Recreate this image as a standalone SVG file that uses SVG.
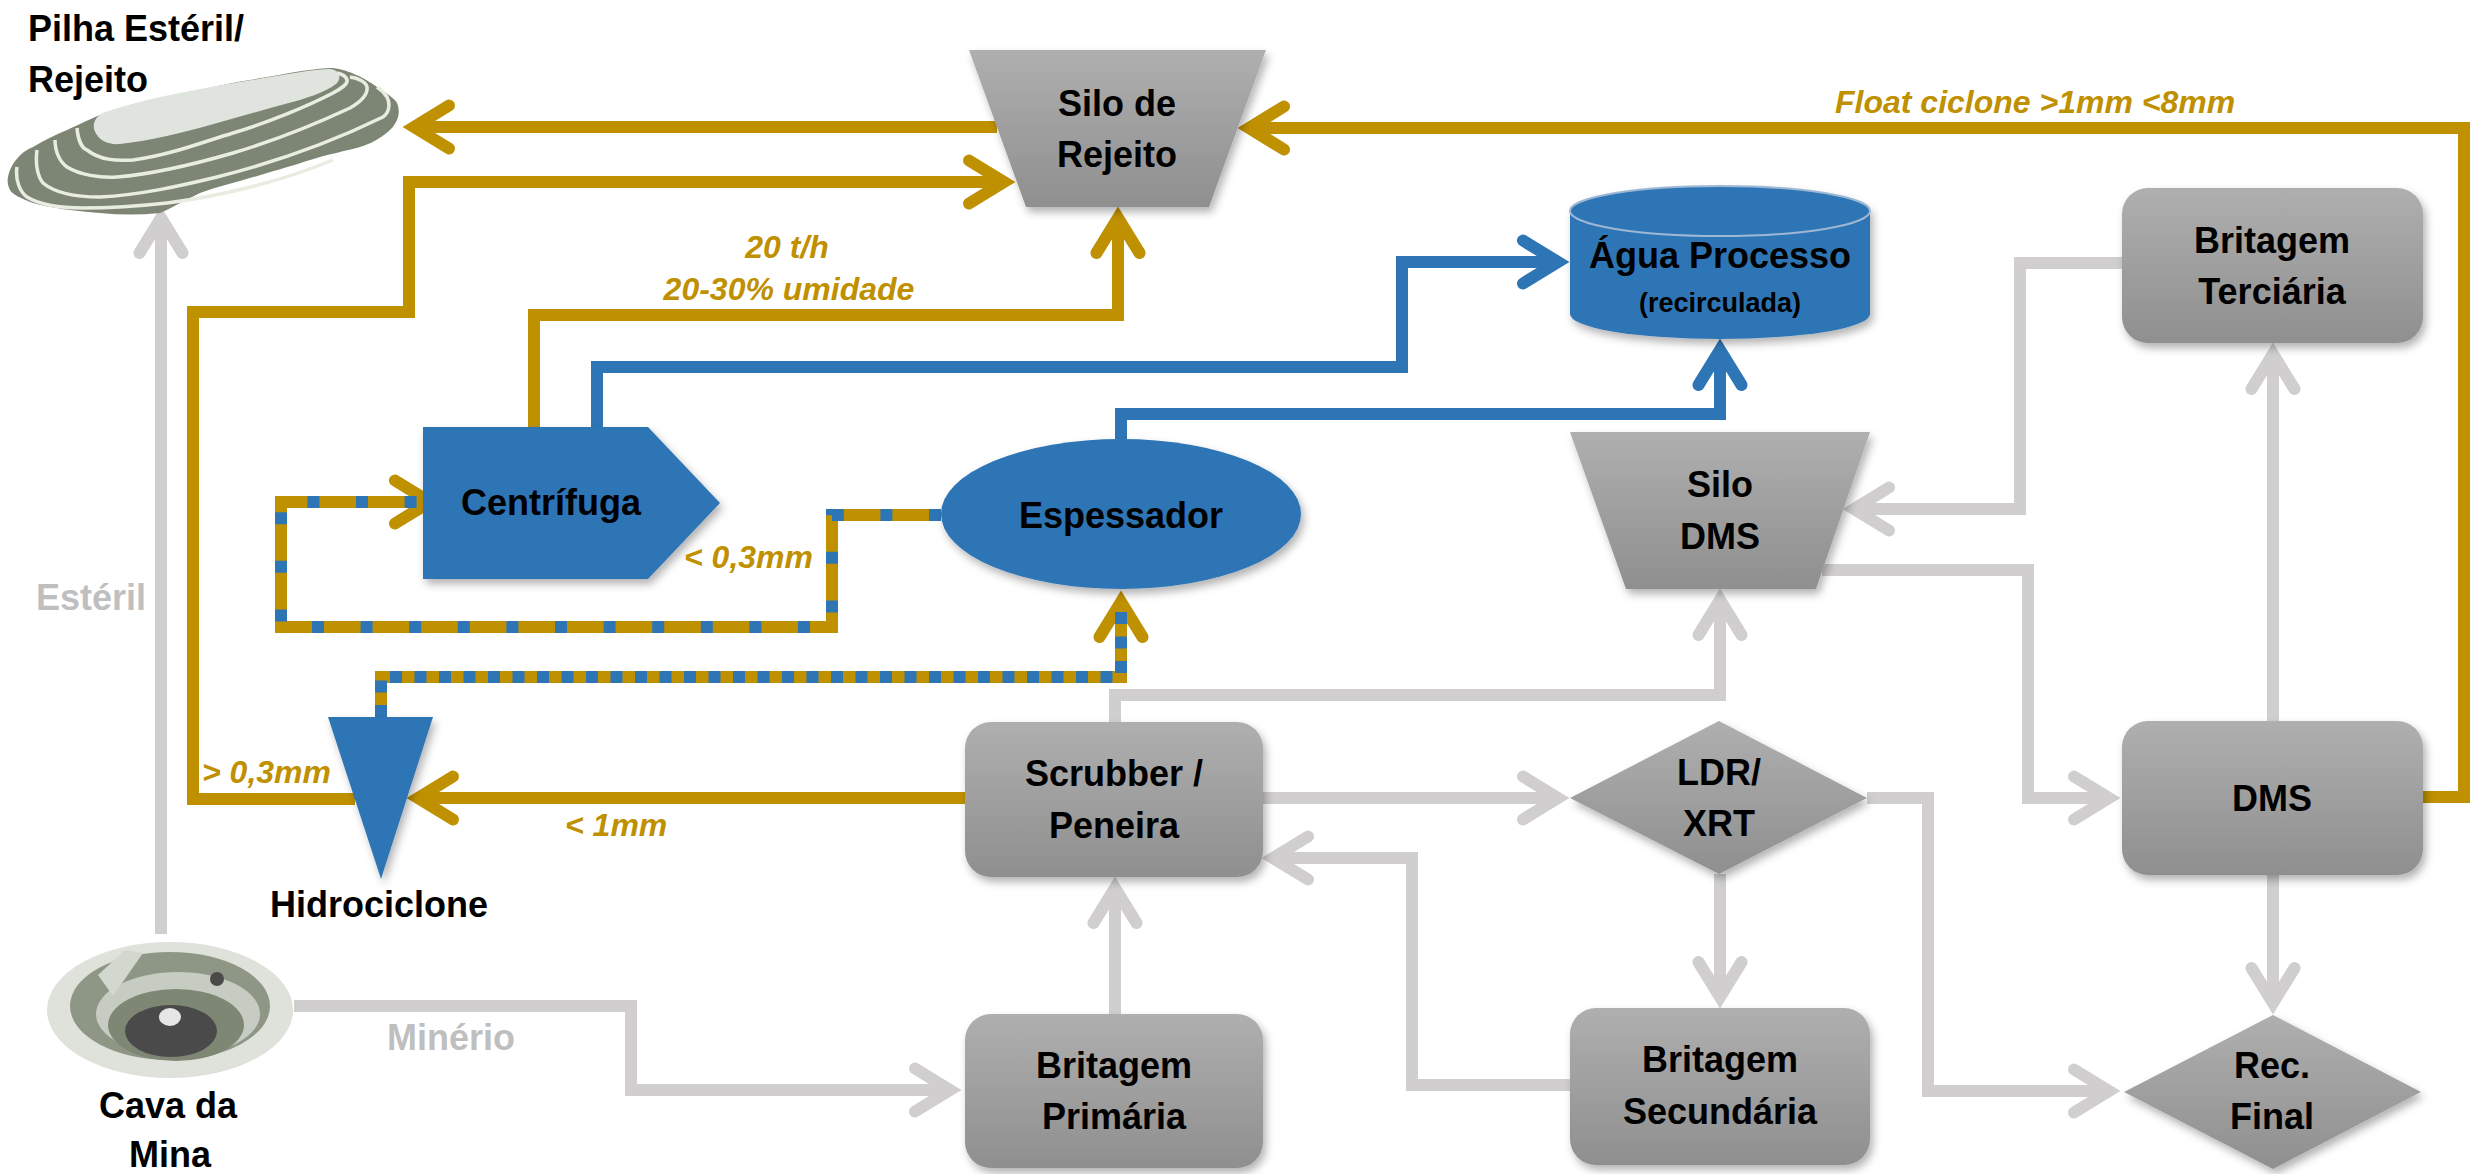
<svg xmlns="http://www.w3.org/2000/svg" width="2471" height="1174" viewBox="0 0 2471 1174">
<defs>
<style>
.lbl{font-family:"Liberation Sans",Arial,sans-serif;font-weight:bold;font-size:36px;fill:#000;text-anchor:middle}
.lbl-l{font-family:"Liberation Sans",Arial,sans-serif;font-weight:bold;font-size:36px;fill:#000}
.sub{font-family:"Liberation Sans",Arial,sans-serif;font-weight:bold;font-size:27px;fill:#000;text-anchor:middle}
.flow{font-family:"Liberation Sans",Arial,sans-serif;font-weight:bold;font-style:italic;font-size:32px;fill:#BF9000}
.glbl{font-family:"Liberation Sans",Arial,sans-serif;font-weight:bold;font-size:36px;fill:#BFBFBF}
.c{fill:none;stroke-width:12;stroke-linejoin:miter;stroke-linecap:butt}
.or{stroke:#BF9000}
.gr{stroke:#D0CECE}
.bl{stroke:#2E75B6}
.dashA{stroke:#2E75B6;stroke-dasharray:12 36.6}
.dashB{stroke:#2E75B6;stroke-dasharray:12 12.5}
.box{fill:url(#gg);filter:url(#sh)}
.blue{fill:#2E75B6;filter:url(#sh)}
.ah{fill:none;stroke-width:12;stroke-linecap:round;stroke-linejoin:miter}
.terr{fill:none;stroke:#E9EDE1;stroke-width:3.5}
</style>
<linearGradient id="gg" x1="0" y1="0" x2="0" y2="1">
<stop offset="0" stop-color="#AFAFAF"/>
<stop offset="1" stop-color="#8F8F8F"/>
</linearGradient>
<filter id="sh" x="-10%" y="-10%" width="130%" height="140%">
<feDropShadow dx="3" dy="5" stdDeviation="4" flood-color="#000" flood-opacity="0.3"/>
</filter>
<marker id="ao" markerUnits="userSpaceOnUse" orient="auto" overflow="visible" refX="0" refY="0" markerWidth="80" markerHeight="80">
<path class="ah" d="M-35,-21.5 L0,0 L-35,21.5" stroke="#BF9000"/>
</marker>
<marker id="ag" markerUnits="userSpaceOnUse" orient="auto" overflow="visible" refX="0" refY="0" markerWidth="80" markerHeight="80">
<path class="ah" d="M-35,-21.5 L0,0 L-35,21.5" stroke="#D0CECE"/>
</marker>
<marker id="ab" markerUnits="userSpaceOnUse" orient="auto" overflow="visible" refX="0" refY="0" markerWidth="80" markerHeight="80">
<path class="ah" d="M-35,-21.5 L0,0 L-35,21.5" stroke="#2E75B6"/>
</marker>
</defs>
<rect width="2471" height="1174" fill="#FFFFFF"/>

<g id="connectors">
<path class="c or" d="M997,127 H414" marker-end="url(#ao)"/>
<path class="c or" d="M355,799 H193 V312 H409 V182 H1004" marker-end="url(#ao)"/>
<path class="c or" d="M534,427 V315 H1118 V218" marker-end="url(#ao)"/>
<path class="c or" d="M2423,797 H2464 V128 H1249" marker-end="url(#ao)"/>
<path class="c or" d="M965,798 H418" marker-end="url(#ao)"/>
<path class="c or" d="M941,515 H832 V627 H281 V502 H430" marker-end="url(#ao)"/>
<path class="c dashA" d="M941,515 H832 V627 H281 V502 H420"/>
<path class="c or" d="M381,717 V677 H1121 V602" marker-end="url(#ao)"/>
<path class="c dashB" d="M381,717 V677 H1121 V610"/>
<path class="c bl" d="M597,427 V367 H1402 V262 H1558" marker-end="url(#ab)"/>
<path class="c bl" d="M1121,439 V414 H1720 V350" marker-end="url(#ab)"/>
<path class="c gr" d="M161,934 V218" marker-end="url(#ag)"/>
<path class="c gr" d="M294,1006 H631 V1090 H950" marker-end="url(#ag)"/>
<path class="c gr" d="M1115,1014 V888" marker-end="url(#ag)"/>
<path class="c gr" d="M1115,722 V695 H1720 V600" marker-end="url(#ag)"/>
<path class="c gr" d="M1263,798 H1558" marker-end="url(#ag)"/>
<path class="c gr" d="M1720,874 V997" marker-end="url(#ag)"/>
<path class="c gr" d="M1570,1085 H1412 V858 H1273" marker-end="url(#ag)"/>
<path class="c gr" d="M1867,798 H1928 V1091 H2109" marker-end="url(#ag)"/>
<path class="c gr" d="M1822,570 H2028 V798 H2109" marker-end="url(#ag)"/>
<path class="c gr" d="M2122,263 H2020 V509 H1854" marker-end="url(#ag)"/>
<path class="c gr" d="M2273,721 V354" marker-end="url(#ag)"/>
<path class="c gr" d="M2273,875 V1003" marker-end="url(#ag)"/>
</g>

<g id="pilha">
<path d="M8,177 C10,165 20,152 33,147 C45,140 55,135 67,130 C80,124 90,119 100,115 C130,105 150,100 167,97 C200,90 225,84 250,80 C290,73 310,69 330,68 C345,68 365,78 377,87 C388,94 396,100 397,103 C400,110 400,120 390,130 C380,139 370,144 360,147 C345,151 335,153 320,157 C300,163 285,168 267,173 C245,180 220,186 200,193 C185,200 172,208 160,213 C140,215 120,215 100,213 C75,211 50,208 33,203 C20,198 12,194 10,190 C8,186 7,181 8,177 Z" fill="#7D8674"/>
<path class="terr" d="M77,128 C78,140 82,148 87,150 C100,160 115,161 133,160 C170,155 200,143 233,133 C270,122 310,105 333,93 C342,88 348,84 347,80 C346,76 342,74 337,73"/>
<path class="terr" d="M55,140 C55,152 60,162 67,167 C80,175 100,178 117,177 C155,174 195,164 233,153 C280,139 320,122 350,108 C362,101 368,94 367,87 C366,82 358,78 350,77"/>
<path class="terr" d="M37,150 C35,165 38,177 43,183 C55,193 75,197 100,197 C140,195 180,186 217,177 C280,161 340,138 383,117 C390,112 390,103 387,97 C384,92 380,89 377,87"/>
<path class="terr" d="M17,167 C15,180 20,192 27,197 C40,205 60,208 83,208 C110,208 140,206 167,203 C230,195 290,178 333,160"/>
<path d="M97,135 C90,126 95,116 105,112 C130,104 150,99 170,95 C205,88 240,82 270,77 C295,73 315,69 330,69 C340,70 342,78 336,84 C326,92 305,99 285,104 C260,111 235,118 210,125 C185,132 150,141 120,144 C108,145 100,140 97,135 Z" fill="#E0E4DE"/>
<text class="lbl-l" x="28" y="41">Pilha Estéril/</text>
<text class="lbl-l" x="28" y="92">Rejeito</text>
</g>

<g id="cava">
<ellipse cx="170" cy="1010" rx="123" ry="68" fill="#DEE2DB"/>
<ellipse cx="170" cy="1006" rx="100" ry="54" fill="#8E9785"/>
<ellipse cx="178" cy="1014" rx="82" ry="42" fill="#C6CCC1"/>
<ellipse cx="176" cy="1025" rx="68" ry="36" fill="#7E8674"/>
<ellipse cx="171" cy="1031" rx="46" ry="26" fill="#4A4A4A"/>
<ellipse cx="170" cy="1017" rx="11" ry="9" fill="#E6E6E6"/>
<circle cx="217" cy="979" r="7" fill="#4A4A4A"/>
<polygon points="98,975 125,950 143,953 113,996" fill="#D3D8CF"/>
<text class="lbl" x="168" y="1118">Cava da</text>
<text class="lbl" x="170" y="1167">Mina</text>
</g>

<g id="silo-rejeito">
<polygon class="box" points="969,50 1266,50 1209,207 1026,207"/>
<text class="lbl" x="1117" y="116">Silo de</text>
<text class="lbl" x="1117" y="167">Rejeito</text>
</g>

<g id="agua-processo">
<path class="blue" d="M1570,211 V314 A150,25 0 0,0 1870,314 V211 A150,25 0 0,0 1570,211 Z"/>
<ellipse cx="1720" cy="211" rx="150" ry="25" fill="#2E75B6" stroke="#9DB7D5" stroke-width="2"/>
<text class="lbl" x="1720" y="268">Água Processo</text>
<text class="sub" x="1720" y="312">(recirculada)</text>
</g>

<g id="britagem-terciaria">
<rect class="box" x="2122" y="188" width="301" height="155" rx="26"/>
<text class="lbl" x="2272" y="253">Britagem</text>
<text class="lbl" x="2272" y="304">Terciária</text>
</g>

<g id="centrifuga">
<polygon class="blue" points="423,427 648,427 720,503 648,579 423,579"/>
<text class="lbl" x="551" y="515">Centrífuga</text>
</g>

<g id="espessador">
<ellipse class="blue" cx="1121" cy="514" rx="180" ry="75"/>
<text class="lbl" x="1121" y="528">Espessador</text>
</g>

<g id="silo-dms">
<polygon class="box" points="1570,432 1870,432 1816,589 1626,589"/>
<text class="lbl" x="1720" y="497">Silo</text>
<text class="lbl" x="1720" y="549">DMS</text>
</g>

<g id="hidrociclone">
<polygon class="blue" points="328,717 433,717 381,879"/>
<text class="lbl" x="379" y="917">Hidrociclone</text>
</g>

<g id="scrubber">
<rect class="box" x="965" y="722" width="298" height="155" rx="26"/>
<text class="lbl" x="1114" y="786">Scrubber /</text>
<text class="lbl" x="1114" y="838">Peneira</text>
</g>

<g id="ldr-xrt">
<polygon class="box" points="1570,798 1719,721 1867,798 1719,874"/>
<text class="lbl" x="1719" y="785">LDR/</text>
<text class="lbl" x="1719" y="836">XRT</text>
</g>

<g id="dms">
<rect class="box" x="2122" y="721" width="301" height="154" rx="26"/>
<text class="lbl" x="2272" y="811">DMS</text>
</g>

<g id="britagem-primaria">
<rect class="box" x="965" y="1014" width="298" height="154" rx="26"/>
<text class="lbl" x="1114" y="1078">Britagem</text>
<text class="lbl" x="1114" y="1129">Primária</text>
</g>

<g id="britagem-secundaria">
<rect class="box" x="1570" y="1008" width="300" height="157" rx="26"/>
<text class="lbl" x="1720" y="1072">Britagem</text>
<text class="lbl" x="1720" y="1124">Secundária</text>
</g>

<g id="rec-final">
<polygon class="box" points="2124,1092 2273,1015 2421,1092 2273,1169"/>
<text class="lbl" x="2272" y="1078">Rec.</text>
<text class="lbl" x="2272" y="1129">Final</text>
</g>

<g id="labels">
<text class="flow" x="1835" y="113">Float ciclone &gt;1mm &lt;8mm</text>
<text class="flow" x="787" y="258" text-anchor="middle">20 t/h</text>
<text class="flow" x="789" y="300" text-anchor="middle">20-30% umidade</text>
<text class="flow" x="684" y="568">&lt; 0,3mm</text>
<text class="flow" x="202" y="783">&gt; 0,3mm</text>
<text class="flow" x="565" y="836">&lt; 1mm</text>
<text class="glbl" x="36" y="610">Estéril</text>
<text class="glbl" x="387" y="1050">Minério</text>
</g>
</svg>
